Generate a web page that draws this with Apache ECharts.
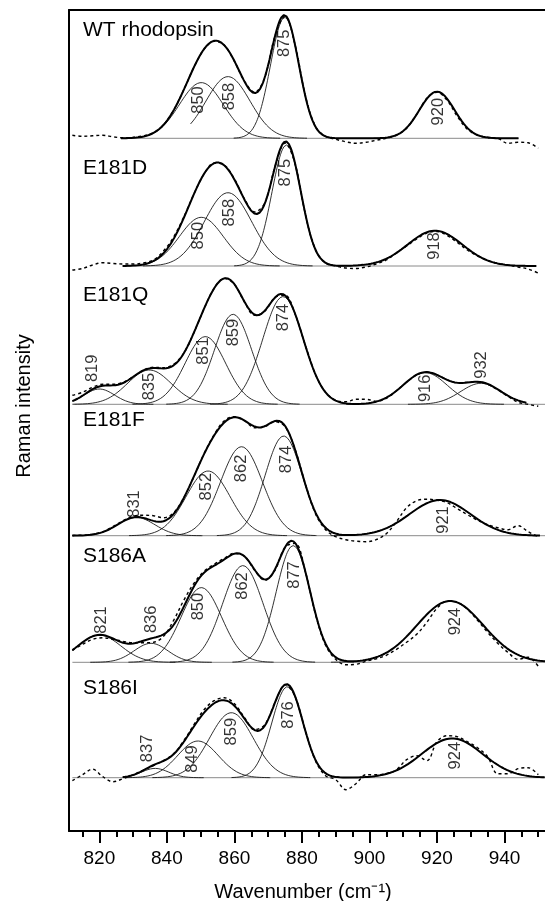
<!DOCTYPE html>
<html><head><meta charset="utf-8">
<script src="https://cdn.jsdelivr.net/npm/echarts@6/dist/echarts.min.js"></script>
<style>html,body{margin:0;padding:0;background:#fff}#c{width:545px;height:901px}</style>
</head><body><div id="c"></div>
<script>
const FONT = "'Liberation Sans', Arial, Helvetica, sans-serif";

// ---- axis ticks ----
const xTicksMajor = [820, 840, 860, 880, 900, 920, 940];
const xTicksMinor = [815, 825, 830, 835, 845, 850, 855, 865, 870, 875, 885, 890, 895, 905, 910, 915, 925, 930, 935, 945, 950];

// ---- panel names ----
const panelNames = ['WT rhodopsin', 'E181D', 'E181Q', 'E181F', 'S186A', 'S186I'];

// ---- wavenumber grid of the measured (dashed) spectra ----
const wavenumbers = [812,815,818,821,824,827,830,833,836,839,842,845,848,851,854,857,860,863,866,869,872,875,878,881,884,887,890,893,896,899,902,905,908,911,914,917,920,923,926,929,932,935,938,941,944,947,950];

// ---- WT rhodopsin ----
const wtPeaks   = [850, 858, 875, 920];
const wtCenters = [850.2, 858.1, 874.9, 920];
const wtHeights = [55.7, 61.7, 121, 46.7];
const wtWidths  = [6.5, 6.5, 4.2, 5.2];
const wtObserved = [3,2,2.5,3,1.5,0.5,1,2.5,5.5,13.5,28,48.5,71,89,97,93,77,57,46,61,102,122,93,43,12,2,-1,-3.5,-5,-4,-2,0,3,10,24,40,46,38,22,9,3,1,0,-5,-4,-4.5,-10];

// ---- E181D ----
const e181dPeaks   = [850, 858, 875, 918];
const e181dCenters = [850.2, 858.1, 875.4, 919.4];
const e181dHeights = [48.7, 73.3, 121, 35.3];
const e181dWidths  = [6.5, 7, 4.3, 8.1];
const e181dObserved = [-4,-2.5,1,3.3,2.5,2,2,3,6,15,29,49,72,92,103,101,87,67,54,63,99,123,102,52,16,3,0,-2,-2.5,-1,2,6,13,20,27,33,34.5,30.5,23.5,16,10,5.5,2.5,1,-1,-3,-7];

// ---- E181Q ----
const e181qPeaks   = [819, 835, 851, 859, 874, 916, 932];
const e181qCenters = [820, 834.8, 851.4, 859.6, 874.4, 916.5, 933];
const e181qHeights = [15.3, 34.3, 67.7, 90, 107.7, 31.7, 21];
const e181qWidths  = [4.5, 6.5, 6, 5.5, 6, 6.5, 6];
const e181qObserved = [9,12,17,20,20,22,27.5,34,37,36.5,40,51,71.5,95.5,116,126,120,102,89,93,107,109,90,59,30,12,4,2.5,5,5,3,6,13.5,22,29.5,32,29.5,24.5,21.5,22,22.5,20,14.5,8,2,0,-2];

// ---- E181F ----
const e181fPeaks   = [831, 852, 862, 874, 921];
const e181fCenters = [830.9, 852.2, 862.1, 874.6, 920.9];
const e181fHeights = [18.3, 64.7, 89, 99.7, 35.7];
const e181fWidths  = [5.5, 6.5, 6.2, 5.5, 9];
const e181fObserved = [0.5,0.5,1.5,4,9,15,19.5,20.5,20,18,23,38,59,82,101,115,119,115,108,109,114,109,86,52,22,6,-1,-4,-5.5,-6,-4,2,14,28,35,36.5,35.5,33,27,21,15.5,11,8,6,10,4,-1];

// ---- S186A ----
const s186aPeaks   = [821, 836, 850, 862, 877, 924];
const s186aCenters = [820, 835.3, 850.2, 862.5, 877.4, 923.9];
const s186aHeights = [27.3, 19, 74.7, 96.7, 116.7, 61.3];
const s186aWidths  = [6.3, 5, 6, 6, 5, 9.8];
const s186aObserved = [12,18,23,24.5,23,21,19.5,19.5,20,26,42,62,79,91,98,104,109,106,92,82,92,115,119,91,48,17,3,-2.5,-2,1,3.5,7,13,20,28,40,54,61,60,53,42,30,19,10,3,5,-4];

// ---- S186I ----
const s186iPeaks   = [837, 849, 859, 876, 924];
const s186iCenters = [836.5, 849.2, 859.1, 875.7, 924.5];
const s186iHeights = [9.3, 36.7, 65, 91, 39.3];
const s186iWidths  = [4, 6, 6.5, 4.6, 9];
const s186iObserved = [-3,3,8.5,1,-4,-1,3,7.5,12,17,24,37,53,68,77,80,74,60,48,53,75,93,81,47,17,2,-2,-12,-6,3,3,4,8,18,22,17,36,42,41,36,30,21,4,4,9,10,3];

// ---- layout (stacking offsets and annotation placement, in axis units) ----
const baselineOffsets = [692.7, 565, 426.7, 295.3, 168.7, 53.3];
const fitRanges  = [[826.4,944.2],[826.9,949.6],[812,946.6],[812,950.6],[812,952],[826.9,952]];
const baseRanges = [[826.4,944.2],[826.9,949.6],[812.6,952],[812,952],[812,952],[812,952]];
const compStarts = [[null,847,null,null],null,null,null,null,null];
const labelPlaces = [
  [[849.4,38.3],[858.6,41.7],[874.9,95],[920.3,26.6]],
  [[849.2,30.3],[858.4,53.3],[875.2,93.3],[919.4,20]],
  [[818,36],[834.8,17.7],[850.7,53.3],[859.6,71.7],[874.4,86.7],[916.5,16],[933.3,39.3]],
  [[830.4,31.7],[851.7,49],[862,67.3],[875.4,76.3],[921.9,15.7]],
  [[820.5,42.3],[835.3,43],[849.2,55.7],[862.5,76.3],[877.9,87.3],[925.4,40.7]],
  [[834.3,29.3],[847.7,18.7],[859.1,46],[875.9,62.7],[925.4,22]]
];
const nameTops = [30.3, 168.3, 295.7, 420, 556.7, 688.3];

const panelData = [
  [wtPeaks, wtCenters, wtHeights, wtWidths, wtObserved],
  [e181dPeaks, e181dCenters, e181dHeights, e181dWidths, e181dObserved],
  [e181qPeaks, e181qCenters, e181qHeights, e181qWidths, e181qObserved],
  [e181fPeaks, e181fCenters, e181fHeights, e181fWidths, e181fObserved],
  [s186aPeaks, s186aCenters, s186aHeights, s186aWidths, s186aObserved],
  [s186iPeaks, s186iCenters, s186iHeights, s186iWidths, s186iObserved]
];

const gauss = (x, c, h, s) => h * Math.exp(-((x - c) * (x - c)) / (2 * s * s));
const common = {type: 'line', showSymbol: false, symbol: 'none', silent: true, animation: false, xAxisIndex: 0, yAxisIndex: 0};
const series = [];

panelData.forEach((pd, i) => {
  const [peaks, centers, heights, widths, observed] = pd;
  const off = baselineOffsets[i];
  const fr = fitRanges[i], br = baseRanges[i];
  // baseline
  series.push(Object.assign({}, common, {
    data: [[br[0], off], [br[1], off]],
    lineStyle: {color: '#8a8a8a', width: 1}, z: 1
  }));
  // band components
  centers.forEach((c, k) => {
    const s = widths[k], h = heights[k];
    let lo = Math.max(c - 3.6 * s, fr[0]);
    if (compStarts[i] && compStarts[i][k] != null) lo = Math.max(lo, compStarts[i][k]);
    const hi = Math.min(c + 3.6 * s, fr[1]);
    const d = [];
    for (let x = lo; x <= hi + 1e-9; x += 0.25) d.push([x, off + gauss(x, c, h, s)]);
    series.push(Object.assign({}, common, {
      data: d, lineStyle: {color: '#1a1a1a', width: 0.9}, z: 2
    }));
  });
  // fitted sum
  const fd = [];
  for (let x = fr[0]; x <= fr[1] + 1e-9; x += 0.25) {
    let y = 0;
    centers.forEach((c, k) => { y += gauss(x, c, heights[k], widths[k]); });
    fd.push([x, off + y]);
  }
  series.push(Object.assign({}, common, {
    data: fd, lineStyle: {color: '#000', width: 2}, z: 3
  }));
  // measured spectrum (dashed)
  series.push(Object.assign({}, common, {
    data: wavenumbers.map((x, j) => [x, off + observed[j]]),
    smooth: 0.35,
    lineStyle: {color: '#000', width: 1.4, type: [3, 3]}, z: 4
  }));
  // peak labels
  series.push({
    type: 'scatter', silent: true, animation: false, symbolSize: 0, z: 5,
    data: peaks.map((p, k) => [labelPlaces[i][k][0], off + labelPlaces[i][k][1], String(p)]),
    label: {
      show: true, position: 'inside', rotate: 90,
      formatter: (q) => q.data[2],
      color: '#000', fontFamily: FONT, fontSize: 16.5
    }
  });
});

const graphics = panelNames.map((n, i) => ({
  type: 'text', x: 83, y: nameTops[i], silent: true,
  style: {text: n, fill: '#000', font: '21px ' + FONT, align: 'left', verticalAlign: 'middle', textAlign: 'left', textVerticalAlign: 'middle'}
}));
graphics.push({
  type: 'text', x: 24, y: 406, rotation: Math.PI / 2, silent: true,
  style: {text: 'Raman intensity', fill: '#000', font: '20px ' + FONT, align: 'center', verticalAlign: 'middle', textAlign: 'center', textVerticalAlign: 'middle'}
});
graphics.push({
  type: 'text', x: 303, y: 892, silent: true,
  style: {text: 'Wavenumber (cm\u207B\u00B9)', fill: '#000', font: '20px ' + FONT, align: 'center', verticalAlign: 'middle', textAlign: 'center', textVerticalAlign: 'middle'}
});

const chart = echarts.init(document.getElementById('c'));
chart.setOption({
  animation: false,
  backgroundColor: '#fff',
  grid: {left: 69, right: 0, top: 10, bottom: 70, outerBoundsMode: 'none', containLabel: false},
  xAxis: [
    {type: 'value', min: 811, max: 952, position: 'bottom',
     axisLine: {show: true, onZero: false, lineStyle: {color: '#000', width: 2}},
     axisTick: {show: true, customValues: xTicksMajor, length: 12, lineStyle: {color: '#000', width: 2}},
     axisLabel: {show: true, customValues: xTicksMajor, margin: 18, color: '#000', fontFamily: FONT, fontSize: 19},
     splitLine: {show: false}},
    {type: 'value', min: 811, max: 952, position: 'bottom',
     axisLine: {show: false, onZero: false},
     axisTick: {show: true, customValues: xTicksMinor, length: 6, lineStyle: {color: '#000', width: 2}},
     axisLabel: {show: false}, splitLine: {show: false}},
    {type: 'value', min: 811, max: 952, position: 'top',
     axisLine: {show: true, onZero: false, lineStyle: {color: '#000', width: 2}},
     axisTick: {show: false}, axisLabel: {show: false}, splitLine: {show: false}}
  ],
  yAxis: {type: 'value', min: 0, max: 821,
    axisLine: {show: true, onZero: false, lineStyle: {color: '#000', width: 2}},
    axisTick: {show: false}, axisLabel: {show: false}, splitLine: {show: false}},
  graphic: graphics,
  series: series
});
</script></body></html>
